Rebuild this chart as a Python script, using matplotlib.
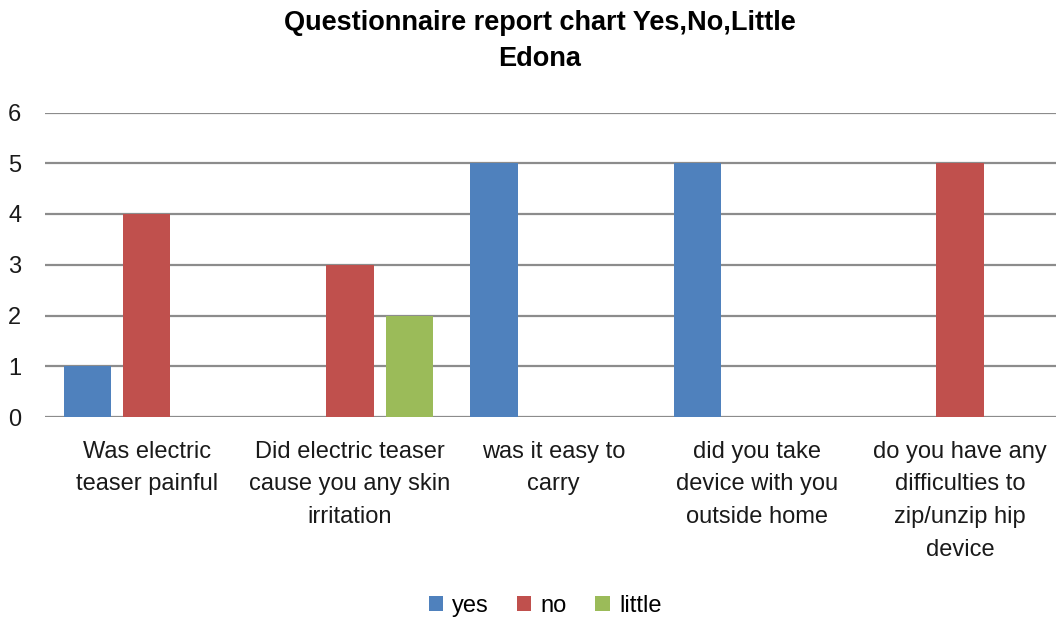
import numpy as np
import matplotlib
matplotlib.use("Agg")
import matplotlib.pyplot as plt
from matplotlib.patches import Patch

plt.rcParams["font.family"] = ["Liberation Sans", "DejaVu Sans"]

# data
categories = [
    "Was electric\nteaser painful",
    "Did electric teaser\ncause you any skin\nirritation",
    "was it easy to\ncarry",
    "did you take\ndevice with you\noutside home",
    "do you have any\ndifficulties to\nzip/unzip hip\ndevice",
]
series_names = ["yes", "no", "little"]
yes_vals = [1, 0, 5, 5, 0]
no_vals = [4, 3, 0, 0, 5]
little_vals = [0, 2, 0, 0, 0]
colors = ["#4F81BD", "#C0504D", "#9BBB59"]

W, H = 1056, 619
fig = plt.figure(figsize=(W / 100, H / 100), dpi=100)
ax = fig.add_axes([45 / W, (H - 417) / H, (W - 45) / W, (417 - 112.5) / H])

x = np.arange(len(categories))
width = 0.232
step = 0.292
for i, (vals, col) in enumerate(zip([yes_vals, no_vals, little_vals], colors)):
    ax.bar(x + (i - 1) * step, vals, width=width, color=col, linewidth=0, zorder=3)

ax.set_xlim(-0.5, 4.472)
ax.set_ylim(0, 6)
ax.set_yticks(range(0, 7))
ax.set_xticks(x)
ax.set_xticklabels(categories, fontsize=17, linespacing=1.64, color="#1a1a1a")
ax.tick_params(axis="x", length=0, pad=17)
ax.tick_params(axis="y", length=0, pad=17, labelsize=17, labelcolor="#1a1a1a")
ax.grid(axis="y", color="#8c8c8c", linewidth=1.6, zorder=0)
for s in ax.spines.values():
    s.set_visible(False)

fig.text(540 / W, 1 - 41 / H, "Questionnaire report chart Yes,No,Little\nEdona",
         ha="center", va="center", fontsize=19.5, fontweight="bold", linespacing=1.5)

handles = [Patch(facecolor=c, edgecolor="none") for c in colors]
fig.legend(handles, series_names, loc="center", bbox_to_anchor=(545 / W, 1 - 606 / H),
           ncol=3, frameon=False, fontsize=17, handlelength=0.6, handleheight=0.6,
           handletextpad=0.4, columnspacing=1.2)

fig.savefig("out.png", dpi=100)
